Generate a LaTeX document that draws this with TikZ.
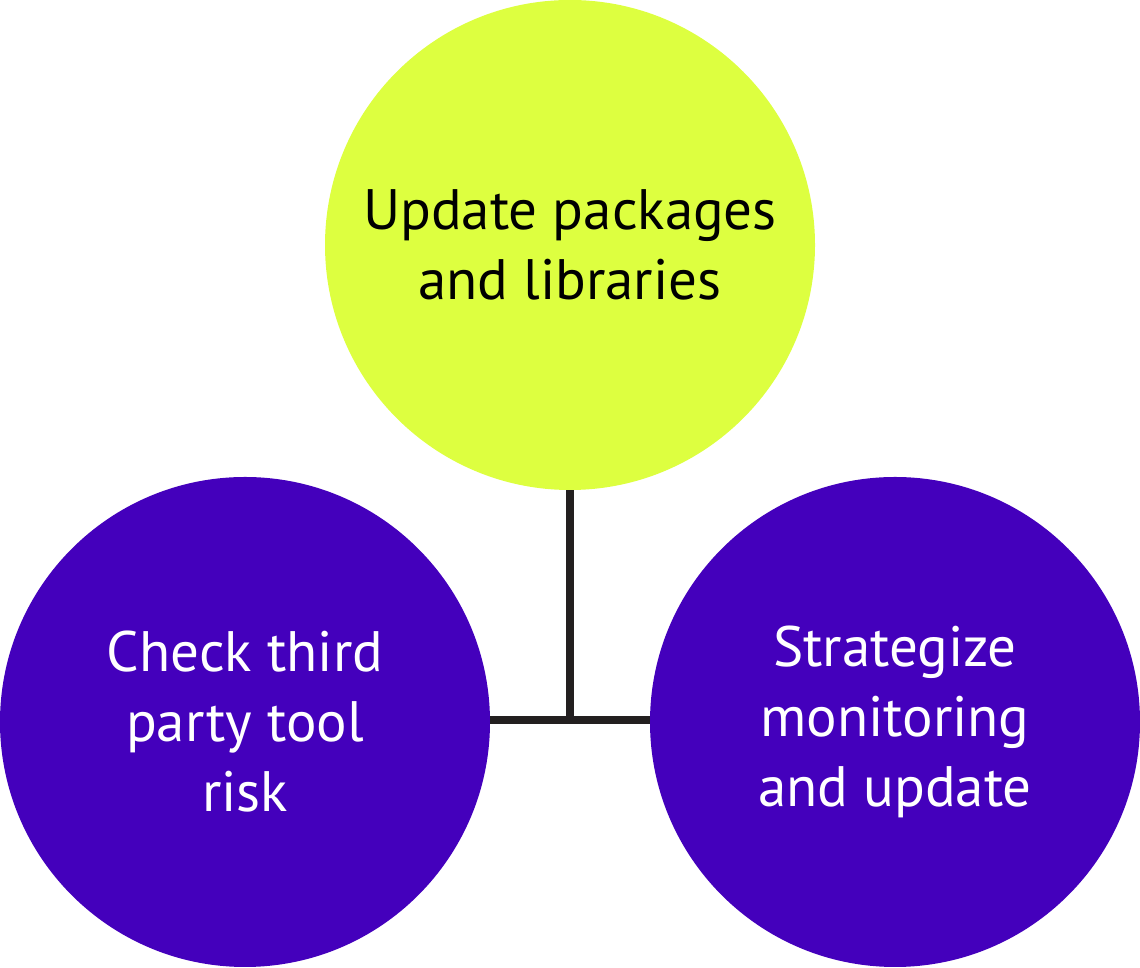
\documentclass[tikz,border=0pt]{standalone}
\usepackage{fontspec}
\setmainfont{PT Sans}
\definecolor{lime}{HTML}{DDFF40}
\definecolor{violet}{HTML}{4400BC}
\definecolor{ink}{HTML}{231F20}
\begin{document}
\begin{tikzpicture}[x=1pt,y=1pt,
  bubble/.style={circle, minimum size=490pt, inner sep=0pt, align=center,
    font=\fontsize{57}{70}\selectfont},
  limebubble/.style={bubble, fill=lime, text=black},
  violetbubble/.style={bubble, fill=violet, text=white},
  link/.style={draw=ink, line width=8pt}]
\useasboundingbox (0,0) rectangle (1140,968);
\node[limebubble] (top) at (570,723) {Update packages\\and libraries};
\node[violetbubble] (left) at (245,246) {Check third\\party tool\\risk};
\node[violetbubble] (right) at (895,246) {Strategize\\monitoring\\and update};
\coordinate (j) at (570,248);
\draw[link] (top.south) -- (j);
\draw[link] (left.east |- j) -- (right.west |- j);
\end{tikzpicture}
\end{document}
